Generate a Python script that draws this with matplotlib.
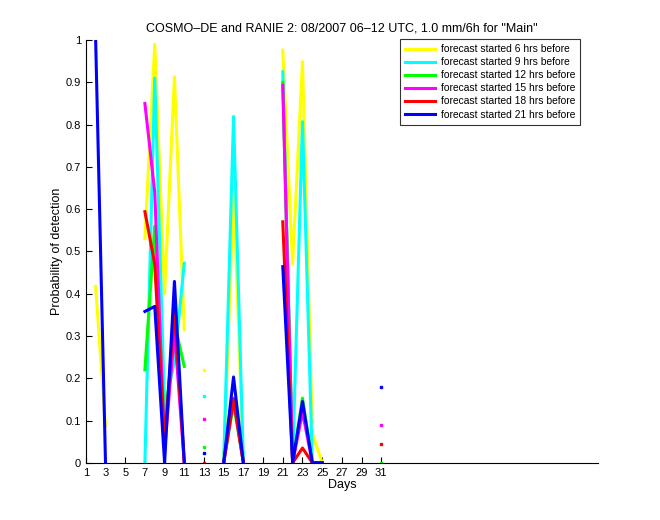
import numpy as np
import matplotlib
matplotlib.use("Agg")
import matplotlib.pyplot as plt

nan = np.nan
days = np.arange(1, 32)

# probability of detection per day, one list per forecast lead time
pod_6h = [nan, 0.417, 0.086, nan, nan, nan, 0.53, 0.99, 0.40, 0.913, 0.315, nan, 0.22, nan, 0.0, 0.65,
          0.0, nan, nan, nan, 0.976, 0.47, 0.949, 0.07, 0.0, nan, nan, nan, nan, nan, nan]
pod_9h = [nan, nan, nan, nan, nan, nan, 0.0, 0.91, 0.133, 0.24, 0.472, nan, 0.157, nan, 0.0, 0.819,
          0.0, nan, nan, nan, 0.925, 0.0, 0.807, 0.0, 0.0, nan, nan, nan, nan, nan, nan]
pod_12h = [nan, nan, nan, nan, nan, nan, 0.22, 0.56, 0.075, 0.33, 0.228, nan, 0.038, nan, 0.0, 0.14,
           0.0, nan, nan, nan, 0.90, 0.0, 0.153, 0.0, 0.0, nan, nan, nan, nan, nan, 0.0]
pod_15h = [nan, nan, nan, nan, nan, nan, 0.85, 0.64, 0.03, 0.31, 0.0, nan, 0.104, nan, 0.0, 0.153,
           0.0, nan, nan, nan, 0.893, 0.0, 0.12, 0.0, 0.0, nan, nan, nan, nan, nan, 0.09]
pod_18h = [nan, nan, nan, nan, nan, nan, 0.594, 0.47, 0.05, 0.36, 0.0, nan, 0.0, nan, 0.0, 0.15,
           0.0, nan, nan, nan, 0.57, 0.0, 0.035, 0.0, 0.0, nan, nan, nan, nan, nan, 0.045]
pod_21h = [nan, 1.0, 0.0, nan, nan, nan, 0.358, 0.37, 0.0, 0.429, 0.0, nan, 0.024, nan, 0.0, 0.203,
           0.0, nan, nan, nan, 0.464, 0.0, 0.145, 0.0, 0.0, nan, nan, nan, nan, nan, 0.18]

series = [pod_6h, pod_9h, pod_12h, pod_15h, pod_18h, pod_21h]
labels = ["forecast started 6 hrs before", "forecast started 9 hrs before",
          "forecast started 12 hrs before", "forecast started 15 hrs before",
          "forecast started 18 hrs before", "forecast started 21 hrs before"]
colors = ["#ffff00", "#00ffff", "#00ff00", "#ff00ff", "#ff0000", "#0000ff"]

plt.rcParams["font.family"] = ["Liberation Sans", "DejaVu Sans"]
fig = plt.figure(figsize=(6.6, 5.2), dpi=100, facecolor="white")
ax = fig.add_axes([0.13, 0.11, 0.776, 0.813])

for vals, lab, col in zip(series, labels, colors):
    y = np.array(vals)
    ax.plot(days, y, color=col, lw=2.2, label=lab)
    # isolated values have no neighbours, show them as dots
    prev = np.concatenate([[nan], y[:-1]])
    nxt = np.concatenate([y[1:], [nan]])
    iso = ~np.isnan(y) & np.isnan(prev) & np.isnan(nxt)
    ax.plot(days[iso], y[iso], ls="none", marker="s", ms=2, color=col, mec=col)

ax.set_xlim(1, 53)
ax.set_ylim(0, 1)
ax.set_xticks(np.arange(1, 32, 2))
ax.set_yticks(np.arange(0, 1.01, 0.1))
ax.set_yticklabels(["0", "0.1", "0.2", "0.3", "0.4", "0.5", "0.6", "0.7", "0.8", "0.9", "1"])
ax.tick_params(direction="in", labelsize=8, length=4, width=0.8)
ax.spines["top"].set_visible(False)
ax.spines["right"].set_visible(False)
for s in ax.spines.values():
    s.set_linewidth(0.8)

ax.set_xlabel("Days", fontsize=9, labelpad=1)
ax.set_ylabel("Probability of detection", fontsize=9, labelpad=2)
ax.set_title("COSMO\u2013DE and RANIE 2: 08/2007 06\u201312 UTC, 1.0 mm/6h for \"Main\"", fontsize=9, pad=6)

leg = ax.legend(loc="upper right", bbox_to_anchor=(0.879, 0.925), bbox_transform=fig.transFigure,
                fontsize=7.4, frameon=True, fancybox=False, edgecolor="black", borderaxespad=0,
                handlelength=3, labelspacing=0.3, handletextpad=0.5, borderpad=0.5)
leg.get_frame().set_linewidth(0.8)

fig.savefig("out.png", dpi=100, facecolor="white")
